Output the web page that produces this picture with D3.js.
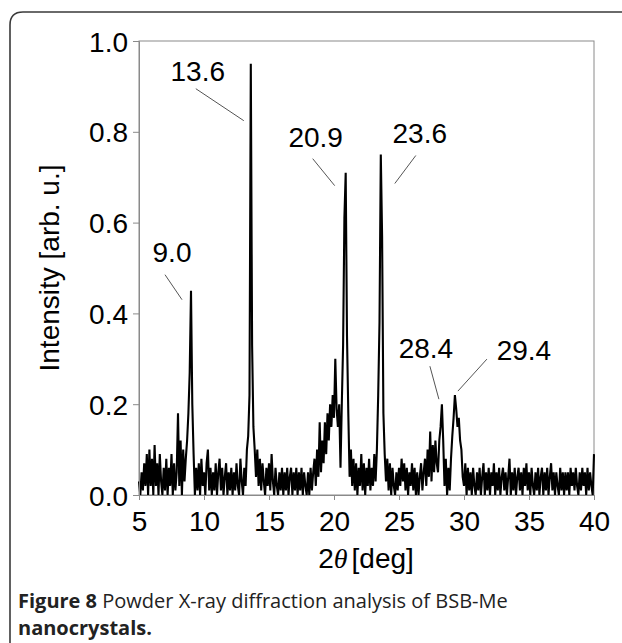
<!DOCTYPE html>
<html><head><meta charset="utf-8">
<script src="https://cdn.jsdelivr.net/npm/d3@7"></script>
<style>
html,body{margin:0;padding:0;background:#fff;}
svg{display:block;}
</style></head>
<body>
<script>
// ---- data ----
const thetaStart = 5.0;
const thetaStep = 0.1;
const intensity = [
 0.03,0.00,0.05,0.01,0.07,0.02,0.09,0.00,0.10,0.02,
 0.08,0.00,0.11,0.02,0.07,0.00,0.09,0.03,0.00,0.06,
 0.01,0.08,0.00,0.06,0.02,0.09,0.00,0.07,0.01,0.05,
 0.18,0.02,0.12,0.00,0.10,0.03,0.08,0.12,0.18,0.27,
 0.45,0.20,0.09,0.00,0.06,0.01,0.07,0.00,0.08,0.02,
 0.05,0.00,0.07,0.10,0.01,0.06,0.00,0.05,0.01,0.07,
 0.00,0.05,0.08,0.01,0.06,0.00,0.04,0.07,0.00,0.05,
 0.01,0.06,0.00,0.05,0.01,0.07,0.02,0.00,0.08,0.03,
 0.00,0.06,0.02,0.10,0.13,0.22,0.95,0.33,0.15,0.10,
 0.04,0.10,0.02,0.08,0.01,0.07,0.03,0.00,0.06,0.02,
 0.07,0.01,0.09,0.03,0.00,0.06,0.02,0.00,0.05,0.01,
 0.06,0.00,0.05,0.01,0.06,0.00,0.04,0.06,0.00,0.05,
 0.01,0.06,0.00,0.05,0.01,0.06,0.00,0.05,0.02,0.00,
 0.05,0.00,0.06,0.01,0.05,0.08,0.02,0.10,0.04,0.16,
 0.05,0.12,0.07,0.16,0.09,0.18,0.12,0.20,0.15,0.22,
 0.17,0.30,0.19,0.15,0.20,0.06,0.20,0.33,0.61,0.71,
 0.35,0.18,0.04,0.10,0.02,0.08,0.01,0.07,0.00,0.06,
 0.02,0.09,0.01,0.07,0.00,0.06,0.02,0.08,0.01,0.06,
 0.02,0.09,0.03,0.10,0.22,0.38,0.75,0.57,0.18,0.09,
 0.03,0.08,0.01,0.07,0.00,0.06,0.02,0.00,0.05,0.01,
 0.06,0.02,0.08,0.03,0.07,0.01,0.06,0.00,0.05,0.02,
 0.07,0.01,0.06,0.00,0.05,0.00,0.04,0.07,0.01,0.05,
 0.08,0.02,0.10,0.04,0.14,0.03,0.11,0.05,0.12,0.07,
 0.05,0.12,0.15,0.20,0.12,0.02,0.08,0.00,0.06,0.01,
 0.08,0.13,0.17,0.22,0.19,0.15,0.17,0.12,0.10,0.04,
 0.02,0.07,0.00,0.06,0.01,0.05,0.00,0.06,0.02,0.00,
 0.05,0.01,0.06,0.00,0.04,0.07,0.00,0.05,0.01,0.06,
 0.00,0.05,0.02,0.07,0.00,0.05,0.01,0.06,0.00,0.04,
 0.06,0.01,0.05,0.00,0.04,0.08,0.00,0.05,0.01,0.06,
 0.00,0.04,0.06,0.01,0.05,0.00,0.06,0.02,0.07,0.01,
 0.05,0.00,0.06,0.02,0.00,0.05,0.01,0.06,0.00,0.04,
 0.06,0.00,0.05,0.01,0.06,0.00,0.04,0.07,0.01,0.05,
 0.00,0.05,0.02,0.00,0.06,0.01,0.05,0.00,0.05,0.01,
 0.05,0.00,0.06,0.02,0.05,0.01,0.06,0.02,0.00,0.05,
 0.01,0.06,0.02,0.05,0.00,0.06,0.01,0.05,0.02,0.00,
 0.09
];
const xTicks = [5, 10, 15, 20, 25, 30, 35, 40];
const yTicks = [0.0, 0.2, 0.4, 0.6, 0.8, 1.0];
const peakLabels = ["9.0", "13.6", "20.9", "23.6", "28.4", "29.4"];
const peakTheta = [9.0, 13.6, 20.9, 23.6, 28.3, 29.3];
const peakValue = [0.45, 0.95, 0.71, 0.75, 0.20, 0.22];

// ---- layout ----
const W = 622, H = 643;
const mLeft = 139, mRight = 594, mTop = 41, mBottom = 495;
const svg = d3.select("body").append("svg").attr("width", W).attr("height", H);

// outer frame (rounded top-left corner)
svg.append("path")
  .attr("d", "M10,700 L10,25 Q10,12 23,12 L700,12")
  .attr("fill", "none").attr("stroke", "#3a3a3a").attr("stroke-width", 1.6);

const x = d3.scaleLinear().domain([5, 40]).range([mLeft, mRight]);
const y = d3.scaleLinear().domain([0, 1]).range([mBottom, mTop]);

const fontAx = "'Liberation Sans', Arial, sans-serif";
const axisColor = "#8a8a8a";

// box
svg.append("rect").attr("x", mLeft).attr("y", mTop)
  .attr("width", mRight - mLeft).attr("height", mBottom - mTop)
  .attr("fill", "none").attr("stroke", axisColor).attr("stroke-width", 1);

// data line
const pts = intensity.map((v, i) => [thetaStart + i * thetaStep, v]);
const line = d3.line().x(d => x(d[0])).y(d => y(d[1]));
svg.append("path").datum(pts).attr("d", line)
  .attr("fill", "none").attr("stroke", "#000").attr("stroke-width", 2.1)
  .attr("stroke-linejoin", "miter");

// axes
const xAxis = d3.axisBottom(x).tickValues(xTicks).tickSize(5).tickPadding(10).tickFormat(d3.format("d"));
const gx = svg.append("g").attr("transform", `translate(0,${mBottom})`).call(xAxis);
const yAxis = d3.axisLeft(y).tickValues(yTicks).tickSize(6).tickPadding(5).tickFormat(d3.format(".1f"));
const gy = svg.append("g").attr("transform", `translate(${mLeft},0)`).call(yAxis);
[gx, gy].forEach(g => {
  g.select(".domain").attr("stroke", axisColor);
  g.selectAll(".tick line").attr("stroke", axisColor);
  g.selectAll(".tick text").attr("fill", "#000").style("font-family", fontAx).style("font-size", "28px");
});
gy.selectAll(".tick text").attr("dy", "0.36em");
gx.selectAll(".tick text").attr("dy", "0.75em");

// axis titles
svg.append("text")
  .attr("transform", `translate(59,268) rotate(-90)`)
  .attr("text-anchor", "middle")
  .style("font-family", fontAx).style("font-size", "28px")
  .text("Intensity [arb. u.]");

const xt = svg.append("text").attr("x", 366).attr("y", 568).attr("text-anchor", "middle")
  .style("font-family", fontAx).style("font-size", "28px");
xt.append("tspan").text("2");
xt.append("tspan").style("font-family", "'Liberation Serif', 'DejaVu Serif', serif").style("font-style", "italic").text("\u03B8");
xt.append("tspan").attr("dx", 4).text("[deg]");

// peak annotations: label offset and leader line endpoints relative to each peak
const annLayout = [
  {tx: -19, ty: -29, l1: [-26, -16], l2: [-9, 9]},
  {tx: -53, ty: 17, l1: [-55, 25], l2: [-7, 57]},
  {tx: -30, ty: -26, l1: [-33, -14], l2: [-11, 13]},
  {tx: 39, ty: -12, l1: [35, 1], l2: [14, 29]},
  {tx: -16, ty: -46, l1: [-12, -38], l2: [-3, -5]},
  {tx: 69, ty: -35, l1: [32, -36], l2: [3, -4]}
];
peakLabels.forEach((lab, i) => {
  const px = x(peakTheta[i]), py = y(peakValue[i]);
  const a = annLayout[i];
  svg.append("line")
    .attr("x1", px + a.l1[0]).attr("y1", py + a.l1[1])
    .attr("x2", px + a.l2[0]).attr("y2", py + a.l2[1])
    .attr("stroke", "#555").attr("stroke-width", 1);
  svg.append("text").attr("x", px + a.tx).attr("y", py + a.ty)
    .attr("text-anchor", "middle")
    .style("font-family", fontAx).style("font-size", "28px")
    .text(lab);
});

// caption
const capFont = "'Open Sans', 'Noto Sans', sans-serif";
const cap = svg.append("text").attr("x", 18).attr("y", 608)
  .style("font-family", capFont).style("font-size", "20px").attr("fill", "#222");
cap.append("tspan").style("font-weight", "bold").text("Figure 8");
cap.append("tspan").text(" Powder X-ray diffraction analysis of BSB-Me");
svg.append("text").attr("x", 18).attr("y", 635)
  .style("font-family", capFont).style("font-size", "20px").attr("fill", "#222")
  .style("font-weight", "bold").text("nanocrystals.");
</script>
</body></html>
